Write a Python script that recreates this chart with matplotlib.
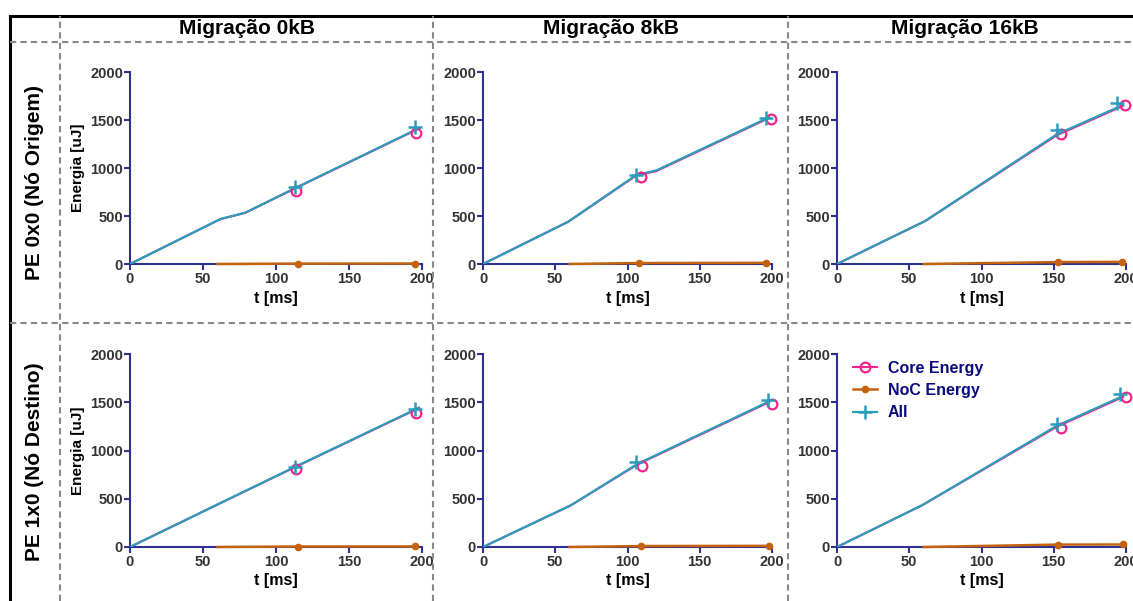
import matplotlib
matplotlib.use("Agg")
import matplotlib.pyplot as plt
from matplotlib.lines import Line2D

plt.rcParams['font.family'] = ['Liberation Sans', 'DejaVu Sans']
plt.rcParams['font.weight'] = 'bold'

# column / row headers
col_titles = ["Migração 0kB", "Migração 8kB", "Migração 16kB"]
row_titles = ["PE 0x0 (Nó Origem)", "PE 1x0 (Nó Destino)"]

# panels in order: row PE 0x0 (0kB, 8kB, 16kB), row PE 1x0 (0kB, 8kB, 16kB)
line_t = [[0, 62, 79, 113, 198], [0, 59, 106, 120, 198], [0, 61, 152, 198],
          [0, 62, 113, 198], [0, 61, 107, 198], [0, 59, 152, 198]]
all_line = [[0, 469, 535, 790, 1415], [0, 441, 927, 975, 1528], [0, 448, 1350, 1657],
            [0, 456, 830, 1444], [0, 434, 862, 1508], [0, 434, 1255, 1565]]
core_line = [[0, 468, 533, 787, 1411], [0, 440, 921, 968, 1521], [0, 447, 1340, 1647],
             [0, 455, 827, 1440], [0, 433, 856, 1501], [0, 433, 1245, 1555]]

noc_t = [[60, 115, 195], [60, 108, 196], [60, 153, 197],
         [60, 115, 195], [60, 109, 198], [60, 153, 198]]
noc_e = [[0, 4, 5], [0, 10, 12], [0, 20, 22],
         [0, 5, 6], [0, 10, 12], [0, 25, 26]]

core_mark_t = [[114, 196], [109, 199], [155, 199], [114, 196], [110, 200], [155, 200]]
core_mark_e = [[762, 1366], [908, 1507], [1355, 1657], [805, 1392], [836, 1484], [1233, 1550]]
all_mark_t = [[113, 195], [106, 196], [152, 194], [113, 195], [106, 197], [152, 196]]
all_mark_e = [[800, 1430], [930, 1520], [1395, 1678], [830, 1427], [877, 1520], [1271, 1590]]

x_ticks = [0, 50, 100, 150, 200]
y_ticks = [0, 500, 1000, 1500, 2000]

c_core = "#F5238C"
c_noc = "#C4620E"
c_all = "#2A9DBA"
c_axis = "#2E3192"
c_tick = "#333333"

W, H = 1133, 601
fig = plt.figure(figsize=(W / 100, H / 100), dpi=100)

# axes boxes in pixels: (left, right) per column, (y0, y2000) per row
cols_px = [(130, 422), (483, 772), (837, 1126)]
rows_px = [(264, 72), (547, 354)]

axes = []
for r in range(2):
    for c in range(3):
        i = r * 3 + c
        x0, x1 = cols_px[c]
        yb, yt = rows_px[r]
        ax = fig.add_axes([x0 / W, 1 - yb / H, (x1 - x0) / W, (yb - yt) / H])
        ax.patch.set_alpha(0)

        ax.plot(line_t[i], core_line[i], color=c_core, lw=1.5, zorder=2)
        ax.plot(core_mark_t[i], core_mark_e[i], ls="none", marker="o", ms=7,
                mfc="none", mec=c_core, mew=1.6, zorder=4, clip_on=False)
        ax.plot(noc_t[i], noc_e[i], color=c_noc, lw=1.8, marker="o", ms=4.5,
                markevery=[1, 2], zorder=3, clip_on=False)
        ax.plot(line_t[i], all_line[i], color=c_all, lw=1.6, zorder=3)
        ax.plot(all_mark_t[i], all_mark_e[i], ls="none", marker="+", ms=10,
                mec=c_all, mew=1.8, zorder=4, clip_on=False)

        ax.set_xlim(0, 200)
        ax.set_ylim(0, 2000)
        ax.set_xticks(x_ticks)
        ax.set_yticks(y_ticks)
        for s in ["top", "right"]:
            ax.spines[s].set_visible(False)
        for s in ["left", "bottom"]:
            ax.spines[s].set_color(c_axis)
            ax.spines[s].set_linewidth(1.5)
            ax.spines[s].set_zorder(1)
        ax.tick_params(direction="out", length=4, width=1.5, color=c_axis,
                       labelcolor=c_tick, labelsize=10.5)
        ax.tick_params(axis="y", pad=1)
        ax.tick_params(axis="x", pad=2)
        for lab in ax.get_xticklabels() + ax.get_yticklabels():
            lab.set_fontweight("bold")
        ax.set_xlabel("t [ms]", fontsize=11.5, fontweight="bold", labelpad=3)
        if c == 0:
            ax.set_ylabel("Energia [uJ]", fontsize=11, fontweight="bold", labelpad=4)
        axes.append(ax)

# legend in the last panel
handles = [
    Line2D([], [], color=c_core, lw=1.5, marker="o", ms=7, mfc="none", mec=c_core, mew=1.6),
    Line2D([], [], color=c_noc, lw=1.8, marker="o", ms=4.5),
    Line2D([], [], color=c_all, lw=1.6, marker="+", ms=10, mew=1.8),
]
leg = axes[5].legend(handles, ["Core Energy", "NoC Energy", "All"], loc="upper left",
                     bbox_to_anchor=(0.055, 0.965), frameon=False, fontsize=11.5,
                     handlelength=1.5, handletextpad=0.7, labelspacing=0.45,
                     borderpad=0, borderaxespad=0)
for t in leg.get_texts():
    t.set_color("#0A0A80")
    t.set_fontweight("bold")

# table frame
fx = lambda px: px / W
fy = lambda py: 1 - py / H
solid = dict(color="black", lw=2.2, transform=fig.transFigure)
dash = dict(color="#888888", lw=1.5, ls=(0, (3, 2)), transform=fig.transFigure)
fig.add_artist(Line2D([fx(10), 1], [fy(16), fy(16)], **solid))
fig.add_artist(Line2D([fx(10), fx(10)], [0, fy(16)], **solid))
for py in [42, 323]:
    fig.add_artist(Line2D([fx(10), 1], [fy(py), fy(py)], **dash))
for px in [60, 433, 788]:
    fig.add_artist(Line2D([fx(px), fx(px)], [0, fy(16)], **dash))

# headers
for name, cx in zip(col_titles, [247, 611, 965]):
    fig.text(fx(cx), fy(29), name, ha="center", va="center", fontsize=15, fontweight="bold")
for name, cy in zip(row_titles, [182, 462]):
    fig.text(fx(35), fy(cy), name, ha="center", va="center", rotation=90,
             fontsize=15, fontweight="bold")

fig.savefig("out.png", dpi=100)
